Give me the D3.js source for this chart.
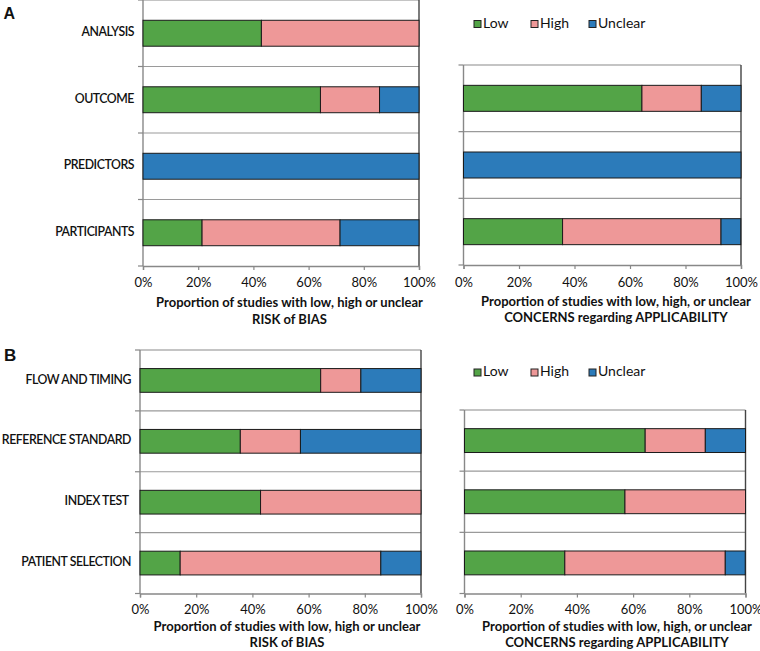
<!DOCTYPE html>
<html><head><meta charset="utf-8">
<script src="https://cdn.jsdelivr.net/npm/d3@7"></script>
<style>body{margin:0;background:#fff}svg{display:block}</style>
</head><body><svg id="c" width="760" height="651"></svg>
<script>
// ---- data (percent of studies) ----
const seriesNames = ["Low", "High", "Unclear"];
const xTickValues = [0, 20, 40, 60, 80, 100];

const catsA_bias = ["ANALYSIS", "OUTCOME", "PREDICTORS", "PARTICIPANTS"];
const lowA_bias = [42.9, 64.3, 0, 21.4];
const highA_bias = [57.1, 21.4, 0, 50.0];
const unclearA_bias = [0, 14.3, 100, 28.6];

const catsA_app = ["OUTCOME", "PREDICTORS", "PARTICIPANTS"];
const lowA_app = [64.3, 0, 35.7];
const highA_app = [21.4, 0, 57.1];
const unclearA_app = [14.3, 100, 7.1];

const catsB_bias = ["FLOW AND TIMING", "REFERENCE STANDARD", "INDEX TEST ", "PATIENT SELECTION"];
const lowB_bias = [64.3, 35.7, 42.9, 14.3];
const highB_bias = [14.3, 21.4, 57.1, 71.4];
const unclearB_bias = [21.4, 42.9, 0, 14.3];

const catsB_app = ["REFERENCE STANDARD", "INDEX TEST", "PATIENT SELECTION"];
const lowB_app = [64.3, 57.1, 35.7];
const highB_app = [21.4, 42.9, 57.1];
const unclearB_app = [14.3, 0, 7.1];

const colors = {Low: "#53a447", High: "#ee9898", Unclear: "#2c7bba"};
const FONT = "Lato, 'Open Sans', sans-serif";

const svg = d3.select("#c");

function panel(opt) {
  const {x0, x1, y0, y1, cats, low, high, unclear, showLabels, title1, title2, titleX, tickY, titleY} = opt;
  const g = svg.append("g");
  const x = d3.scaleLinear().domain([0, 100]).range([x0, x1]);
  const y = d3.scaleBand().domain(d3.range(cats.length)).range([y0, y1]).paddingInner(0).paddingOuter(0);
  const step = y.step();
  const barH = step * 0.39;

  for (let i = 1; i < cats.length; i++) {
    g.append("line").attr("x1", x0).attr("x2", x1)
      .attr("y1", y(i)).attr("y2", y(i))
      .attr("stroke", "#9a9a9a").attr("stroke-width", 1.2);
  }
  g.append("line").attr("x1", x0).attr("x2", x1).attr("y1", y0).attr("y2", y0).attr("stroke", "#8a8a8a").attr("stroke-width", 1.2);
  g.append("line").attr("x1", x1).attr("x2", x1).attr("y1", y0).attr("y2", y1).attr("stroke", "#444").attr("stroke-width", 1.4);

  g.append("line").attr("x1", x0).attr("x2", x0).attr("y1", y0).attr("y2", y1).attr("stroke", "#888").attr("stroke-width", 1.4);
  for (let i = 0; i <= cats.length; i++) {
    const yy = i < cats.length ? y(i) : y1;
    g.append("line").attr("x1", x0 - 5).attr("x2", x0).attr("y1", yy).attr("y2", yy).attr("stroke", "#888").attr("stroke-width", 1.2);
  }

  const xAxis = d3.axisBottom(x).tickValues(xTickValues).tickFormat(d => d + "%").tickSize(4).tickPadding(8);
  const ax = g.append("g").attr("transform", `translate(0,${y1})`).call(xAxis);
  ax.select(".domain").attr("stroke", "#888").attr("stroke-width", 1.4);
  ax.selectAll(".tick line").attr("stroke", "#888").attr("stroke-width", 1.2);
  ax.selectAll(".tick text").attr("font-family", FONT).attr("font-size", 13).attr("fill", "#111").attr("dy", null).attr("y", tickY - y1).attr("dominant-baseline", "middle");

  const rows = cats.map((c, i) => ({i, Low: low[i], High: high[i], Unclear: unclear[i]}));
  const stack = d3.stack().keys(seriesNames)(rows);
  stack.forEach(layer => {
    g.append("g").selectAll("rect").data(layer.filter(d => d[1] - d[0] > 0)).join("rect")
      .attr("x", d => x(d[0])).attr("width", d => x(d[1]) - x(d[0]))
      .attr("y", d => y(d.data.i) + (step - barH) / 2).attr("height", barH)
      .attr("fill", colors[layer.key]).attr("stroke", "#1a1a1a").attr("stroke-width", 1);
  });

  if (showLabels) {
    g.selectAll(".cat").data(cats).join("text")
      .attr("x", x0 - 9).attr("y", (d, i) => y(i) + step / 2)
      .attr("text-anchor", "end").attr("dominant-baseline", "middle")
      .attr("font-family", FONT).attr("font-size", 12.3).attr("font-weight", 600).attr("fill", "#111")
      .attr("letter-spacing", "-0.45px")
      .style("white-space", "pre")
      .text(d => d);
  }
  [title1, title2].forEach((t, k) => {
    g.append("text").attr("x", titleX).attr("y", titleY[k]).attr("text-anchor", "middle")
      .attr("dominant-baseline", "middle")
      .attr("font-family", FONT).attr("font-size", 13).attr("font-weight", 700).attr("fill", "#111").text(t);
  });
}

function legend(lx, ly) {
  const pos = [lx, lx + 57, lx + 115];
  seriesNames.forEach((s, k) => {
    svg.append("rect").attr("x", pos[k]).attr("y", ly - 3.5).attr("width", 7).attr("height", 7)
      .attr("fill", colors[s]).attr("stroke", "#222").attr("stroke-width", 1);
    svg.append("text").attr("x", pos[k] + 9).attr("y", ly).attr("dominant-baseline", "middle")
      .attr("font-family", FONT).attr("font-size", 14).attr("fill", "#111").text(s);
  });
}

panel({x0: 143, x1: 419, y0: 0, y1: 266, cats: catsA_bias, low: lowA_bias, high: highA_bias, unclear: unclearA_bias,
  showLabels: true, title1: "Proportion of studies with low, high or unclear", title2: "RISK of BIAS",
  titleX: 289.5, tickY: 284, titleY: [304, 320.5]});
panel({x0: 463.5, x1: 741, y0: 65, y1: 265, cats: catsA_app, low: lowA_app, high: highA_app, unclear: unclearA_app,
  showLabels: false, title1: "Proportion of studies with low, high, or unclear", title2: "CONCERNS regarding APPLICABILITY",
  titleX: 616, tickY: 284, titleY: [303, 318.5]});
panel({x0: 140, x1: 421, y0: 350, y1: 593.5, cats: catsB_bias, low: lowB_bias, high: highB_bias, unclear: unclearB_bias,
  showLabels: true, title1: "Proportion of studies with low, high or unclear", title2: "RISK of BIAS",
  titleX: 287, tickY: 610.5, titleY: [627.5, 643.5]});
panel({x0: 464.5, x1: 745.5, y0: 410, y1: 593.5, cats: catsB_app, low: lowB_app, high: highB_app, unclear: unclearB_app,
  showLabels: false, title1: "Proportion of studies with low, high, or unclear", title2: "CONCERNS regarding APPLICABILITY",
  titleX: 617, tickY: 610.5, titleY: [627.5, 643.5]});

legend(474, 24);
legend(474, 372.5);

svg.append("text").attr("x", 3.5).attr("y", 18.5).attr("font-family", "Liberation Sans, Arial, sans-serif").attr("font-weight", 700).attr("font-size", 16).attr("fill", "#111").text("A");
svg.append("text").attr("x", 4).attr("y", 361).attr("font-family", "Liberation Sans, Arial, sans-serif").attr("font-weight", 700).attr("font-size", 17).attr("fill", "#111").text("B");
</script></body></html>
